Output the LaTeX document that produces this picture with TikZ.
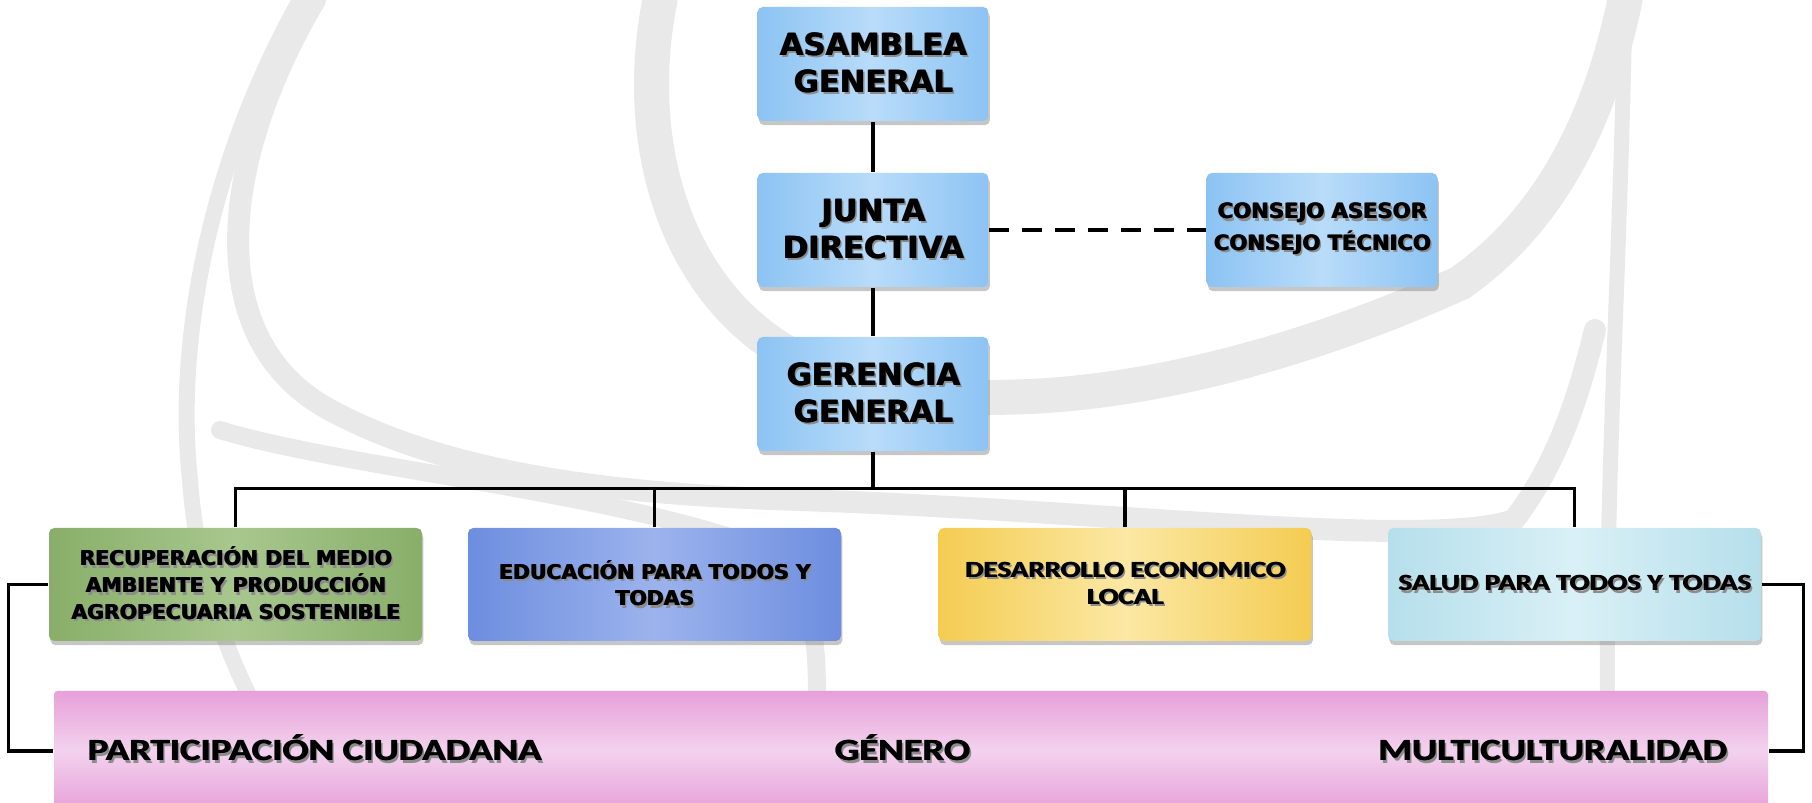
\documentclass[tikz,border=0pt]{standalone}
\usepackage{fontspec}
\usepackage{tikz}
\newfontfamily\heavyfont{DejaVu Sans}
\newfontfamily\calibfont{Carlito}[FakeStretch=1.25]
\usetikzlibrary{positioning,shadows}
\definecolor{wmgray}{HTML}{E9E9E9}
\definecolor{headA}{HTML}{8CC3F3}
\definecolor{headB}{HTML}{B9DCF9}
\definecolor{recA}{HTML}{89AE69}
\definecolor{recB}{HTML}{A8C78E}
\definecolor{eduA}{HTML}{6D8DDE}
\definecolor{eduB}{HTML}{9CB3ED}
\definecolor{desA}{HTML}{F4CC52}
\definecolor{desB}{HTML}{FBE8A4}
\definecolor{salA}{HTML}{B6DFEB}
\definecolor{salB}{HTML}{D9F0F6}
\definecolor{pinkA}{HTML}{E6A0D9}
\definecolor{pinkB}{HTML}{F3D2EE}
\newcommand\heavy{\heavyfont\bfseries}
\newcommand\calib{\calibfont\bfseries}
\newcommand\hv[1]{\leavevmode\rlap{\kern.7pt\raisebox{-.7pt}{\color{black!45}#1}}%
  \rlap{\kern.3pt#1}#1}
\tikzstyle{box}=[rounded corners=1.5pt,align=center,inner sep=0pt,
  drop shadow={shadow xshift=.4pt,shadow yshift=-1.2pt,opacity=.45}]
\tikzstyle{head}=[box,minimum width=2.31cm,minimum height=1.14cm,
  left color=headA,right color=headA,middle color=headB,
  font=\heavy\fontsize{8.7}{10.5}\selectfont]
\tikzstyle{area}=[box,minimum width=3.73cm,minimum height=1.13cm]
\tikzstyle{wide}=[font=\heavy\fontsize{5.8}{7.6}\selectfont]
\tikzstyle{narrow}=[font=\calib\fontsize{6.6}{7.6}\selectfont]
\tikzstyle{eje}=[font=\calib\fontsize{8.8}{10}\selectfont]
\tikzstyle{band}=[rounded corners=1pt,minimum width=17.14cm,minimum height=1.2cm,
  top color=pinkA,bottom color=pinkA,middle color=pinkB]
\tikzstyle{swoosh}=[draw=wmgray,line cap=round]
\tikzstyle{link}=[line width=1pt]
\tikzset{tint/.style 2 args={left color=#1,right color=#1,middle color=#2}}

\begin{document}
\begin{tikzpicture}[>=stealth, on grid, node distance=1.66cm]
  \useasboundingbox (0,0) rectangle (18.12,-8.03);

  \draw[swoosh,line width=1.6mm] (3.0,0) .. controls (2.1,-1.6) and (1.75,-3.4) .. (1.9,-4.8)
    .. controls (2.0,-6.2) and (2.6,-7.3) .. (3.2,-8.1);
  \draw[swoosh,line width=2.2mm] (3.15,0) .. controls (2.2,-1.6) and (2.0,-3.4) .. (3.3,-4.1)
    .. controls (4.6,-4.8) and (6.4,-4.95) .. (8.0,-5.0)
    .. controls (11,-5.1) and (14.3,-5.5) .. (15.14,-5.2)
    .. controls (15.6,-4.6) and (15.8,-3.9) .. (15.95,-3.3);
  \draw[swoosh,line width=3.5mm] (6.6,0) .. controls (6.3,-1.5) and (6.8,-3.0) .. (8.0,-3.6)
    .. controls (9.5,-4.3) and (12.0,-4.0) .. (14.6,-2.83)
    .. controls (15.5,-2.2) and (16.0,-1.2) .. (16.25,0);
  \draw[swoosh,line width=1.8mm] (2.2,-4.3) .. controls (3.5,-4.7) and (6.5,-4.95) .. (7.9,-5.6)
    .. controls (8.3,-6.3) and (8.15,-7.3) .. (8.1,-8.1);
  \draw[swoosh,line width=1.5mm] (16.25,0) .. controls (16.2,-3) and (16.0,-5.5) .. (16.1,-8.1);

  \node[head] (asam) at (8.73,-0.64) {\hv{ASAMBLEA}\\\hv{GENERAL}};
  \node[head,below=of asam] (junta) {\hv{JUNTA}\\\hv{DIRECTIVA}};
  \node[head,below=1.64cm of junta] (ger) {\hv{GERENCIA}\\\hv{GENERAL}};
  \node[head,right=4.49cm of junta,
    font=\heavy\fontsize{6}{9}\selectfont] (cons)
  {\hv{CONSEJO ASESOR}\\\hv{CONSEJO TÉCNICO}};

  \node[area,wide,tint={recA}{recB}] (rec) at (2.355,-5.845)
  {\hv{RECUPERACIÓN DEL MEDIO}\\\hv{AMBIENTE Y PRODUCCIÓN}\\\hv{AGROPECUARIA SOSTENIBLE}};
  \node[area,wide,tint={eduA}{eduB},right=4.19cm of rec] (edu)
  {\hv{EDUCACIÓN PARA TODOS Y}\\\hv{TODAS}};
  \node[area,narrow,tint={desA}{desB},right=4.705cm of edu] (des)
  {\hv{DESARROLLO ECONOMICO}\\\hv{LOCAL}};
  \node[area,narrow,tint={salA}{salB},right=4.495cm of des] (sal)
  {\hv{SALUD PARA TODOS Y TODAS}};

  \node[band] (ejes) at (9.11,-7.51) {};
  \node[eje,anchor=base west] (part) at (0.75,-7.61) {\hv{PARTICIPACIÓN CIUDADANA}};
  \node[eje,anchor=base] (gen) at (9.02,-7.61) {\hv{GÉNERO}};
  \node[eje,anchor=base east] (multi) at (17.39,-7.61) {\hv{MULTICULTURALIDAD}};

  \draw[link] (asam) -- (junta);
  \draw[link] (junta) -- (ger);
  \draw[link,line width=1.2pt,dash pattern=on 5.7pt off 3.7pt] (junta) -- (cons);
  \coordinate[below=0.37cm of ger.south] (bus);
  \draw[link] (ger) -- (bus);
  \draw[link] (rec.north) |- (bus) -| (sal.north);
  \draw[link] (edu.north) -- (edu.north |- bus);
  \draw[link] (des.north) -- (des.north |- bus);
  \draw[link] (rec.west) -- ++(-0.4,0) |- (ejes.west);
  \draw[link] (sal.east) -- ++(0.42,0) |- (ejes.east);
\end{tikzpicture}
\end{document}
